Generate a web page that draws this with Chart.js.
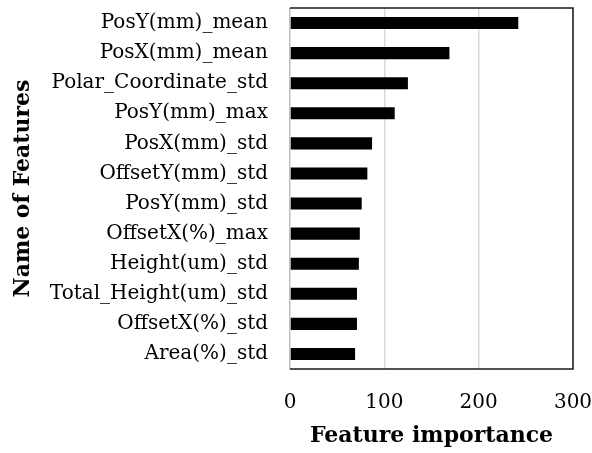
<!DOCTYPE html>
<html>
<head>
<meta charset="utf-8">
<script src="https://cdn.jsdelivr.net/npm/chart.js@4/dist/chart.umd.min.js"></script>
<style>
  html, body { margin: 0; padding: 0; background: #fff; }
  #wrap { width: 592px; height: 453px; }
</style>
</head>
<body>
<div id="wrap"><canvas id="chart" width="592" height="453"></canvas></div>
<script>
const features = [
    'PosY(mm)_mean',
    'PosX(mm)_mean',
    'Polar_Coordinate_std',
    'PosY(mm)_max',
    'PosX(mm)_std',
    'OffsetY(mm)_std',
    'PosY(mm)_std',
    'OffsetX(%)_max',
    'Height(um)_std',
    'Total_Height(um)_std',
    'OffsetX(%)_std',
    'Area(%)_std',
];
const importance = [242, 169, 125, 111, 87, 82, 76, 74, 73, 71, 71, 69];
const xTicks = [0, 100, 200, 300];

const serif = '"DejaVu Serif", "Liberation Serif", serif';

// no automatic padding, the layout padding places the plot area
const noPad = (s) => {
    s.paddingLeft = 0;
    s.paddingRight = 0;
    s.paddingTop = 0;
    s.paddingBottom = 0;
};

// frame on top / right / bottom of the plot area
const frame = {
    id: 'frame',
    afterDraw(chart) {
        const { ctx, chartArea: a } = chart;
        ctx.save();
        ctx.strokeStyle = '#1a1a1a';
        ctx.lineWidth = 1.5;
        ctx.beginPath();
        ctx.moveTo(a.left, a.top);
        ctx.lineTo(a.right, a.top);
        ctx.lineTo(a.right, a.bottom);
        ctx.lineTo(a.left, a.bottom);
        ctx.stroke();
        ctx.restore();
    },
};

new Chart(document.getElementById('chart'), {
    type: 'bar',
    data: {
        labels: features,
        datasets: [
            {
                label: 'Feature importance',
                data: importance,
                backgroundColor: '#000',
                categoryPercentage: 1,
                barPercentage: 0.4,
            },
        ],
    },
    options: {
        indexAxis: 'y',
        responsive: false,
        animation: false,
        layout: {
            padding: { top: 8, right: 19, left: 6, bottom: 0 },
        },
        scales: {
            x: {
                min: 0,
                max: 300,
                afterBuildTicks: (s) => { s.ticks = xTicks.map((v) => ({ value: v })); },
                afterFit: (s) => { s.height = 84; noPad(s); },
                grid: {
                    color: (c) => (c.tick && c.tick.value === 0 ? '#bfbfbf' : '#d9d9d9'),
                    lineWidth: 1.5,
                    drawTicks: false,
                },
                border: { display: false },
                ticks: {
                    color: '#000',
                    padding: 22,
                    font: { family: serif, size: 20 },
                },
                title: {
                    display: true,
                    text: 'Feature importance',
                    color: '#000',
                    padding: { top: 5 },
                    font: { family: serif, size: 22, weight: 'bold' },
                },
            },
            y: {
                afterFit: (s) => { s.width = 284; noPad(s); },
                grid: { display: false, drawTicks: false },
                border: { display: false },
                ticks: {
                    color: '#000',
                    padding: 22,
                    autoSkip: false,
                    font: { family: serif, size: 20 },
                },
                title: {
                    display: true,
                    text: 'Name of Features',
                    color: '#000',
                    padding: { bottom: 0 },
                    font: { family: serif, size: 22, weight: 'bold' },
                },
            },
        },
        plugins: {
            legend: { display: false },
            tooltip: { enabled: false },
        },
    },
    plugins: [frame],
});
</script>
</body>
</html>
